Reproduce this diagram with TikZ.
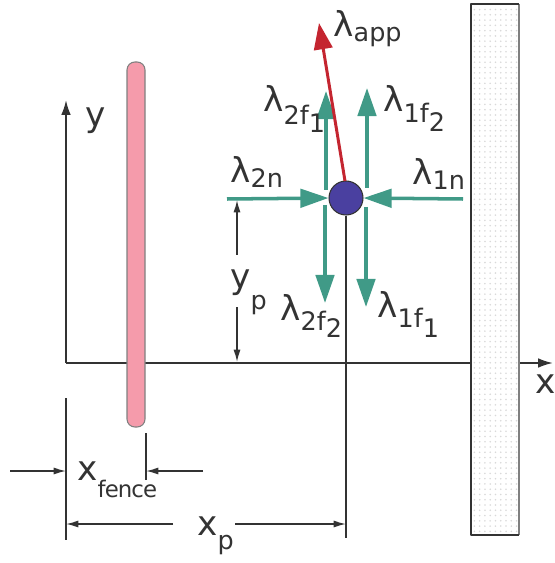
\documentclass[tikz,border=0pt]{standalone}
\usepackage{fontspec}
\setmainfont{DejaVu Sans}
\usetikzlibrary{arrows.meta,patterns}
\definecolor{forcegreen}{HTML}{409A87}
\definecolor{appred}{HTML}{C42530}
\definecolor{grainblue}{HTML}{4A40A0}
\definecolor{fencepink}{HTML}{F59BAB}
\definecolor{inkgray}{HTML}{333333}
\newcommand{\subsz}{\fontsize{14.5}{17}\selectfont}
\newcommand{\lsub}[2]{\raisebox{-#1}{\subsz #2}}
\begin{document}
\begin{tikzpicture}[x=0.02cm, y=-0.02cm, line join=round,
    lbl/.style={inner sep=0pt, anchor=base west, text=inkgray, font=\fontsize{19.5}{23}\selectfont},
    force/.style={forcegreen, line width=2pt, -{Triangle[length=16pt, width=10.5pt]}},
    appforce/.style={appred, line width=1.7pt, -{Triangle[length=15pt, width=10.5pt]}},
    axis/.style={inkgray, line width=1.1pt, -{Latex[length=8.5pt, width=5.5pt]}},
    dim/.style={inkgray, line width=0.8pt, -{Latex[length=7pt, width=4pt]}},
    guide/.style={inkgray, line width=0.6pt}]
  \useasboundingbox (0,0) rectangle (554,563);

  % 1. axes
  \coordinate (O) at (66,363);
  \coordinate (ytip) at (66,100);
  \coordinate (xtip) at (553,363);
  \draw[axis] (O) -- (ytip);
  \draw[axis] (O) -- (xtip);
  \node[lbl] (ylab) at (85,127) {y};
  \node[lbl] (xlab) at (535,393) {x};

  % 2. fence and wall
  \draw[draw=gray, fill=fencepink, line width=0.6pt, rounded corners=4.5pt] (127,62) rectangle (145,427);
  \fill[white] (471,4) rectangle (519,535);
  \fill[pattern=dots, pattern color=gray!30] (471,4) rectangle (519,535);
  \draw[gray, line width=1pt] (519,4) -- (519,535);
  \draw[inkgray, line width=1pt] (519,535) -- (471,535) -- (471,4) -- (519,4);

  % 3. the grain and the forces on it
  \node[circle, draw=inkgray, line width=0.6pt, fill=grainblue, minimum size=0.68cm, inner sep=0pt] (P) at (346,198) {};
  \coordinate (f2n) at (227,199);
  \coordinate (f1n) at (463,199);
  \coordinate (u1a) at (326,190);  \coordinate (u1b) at (326,91);
  \coordinate (u2a) at (367,188);  \coordinate (u2b) at (367,88);
  \coordinate (d1a) at (325,205);  \coordinate (d1b) at (325,303);
  \coordinate (d2a) at (366,207);  \coordinate (d2b) at (366,307);
  \coordinate (appa) at (345,181); \coordinate (appb) at (319,23);
  \draw[force] (f2n) -- (P.west);
  \draw[force] (f1n) -- (P.east);
  \draw[force] (u1a) -- (u1b);
  \draw[force] (u2a) -- (u2b);
  \draw[force] (d1a) -- (d1b);
  \draw[force] (d2a) -- (d2b);
  \draw[appforce] (appa) -- (appb);

  \node[lbl] (lapp) at (333,37) {λ\lsub{2.8pt}{app}};
  \node[lbl] (l2f1) at (263,112) {λ\lsub{7.4pt}{2f\lsub{4.5pt}{1}}};
  \node[lbl] (l1f2) at (383,112) {λ\lsub{6.2pt}{1f\lsub{5pt}{2}}};
  \node[lbl] (l2n) at (230,183) {λ\lsub{2.8pt}{2n}};
  \node[lbl] (l1n) at (412,185) {λ\lsub{2.8pt}{1n}};
  \node[lbl] (l2f2) at (280,320) {λ\lsub{5.7pt}{2f\lsub{4pt}{2}}};
  \node[lbl] (l1f1) at (377,317) {λ\lsub{5.7pt}{1f\lsub{6pt}{1}}};

  % 4. dimensions
  \coordinate (yp0) at (237,255); \coordinate (yp1) at (237,200);
  \coordinate (yp2) at (237,307); \coordinate (yp3) at (237,362);
  \draw[dim] (yp0) -- (yp1);
  \draw[dim] (yp2) -- (yp3);
  \node[lbl] (yplab) at (230,288) {y\lsub{12pt}{p}};

  \coordinate (pdrop) at (346,538);
  \draw[guide] (P.south) -- (pdrop);
  \coordinate (g0a) at (66,398);  \coordinate (g0b) at (66,540);
  \coordinate (g1a) at (146,433); \coordinate (g1b) at (146,480);
  \draw[guide] (g0a) -- (g0b);
  \draw[guide] (g1a) -- (g1b);

  \coordinate (xf0) at (10,471);  \coordinate (xf1) at (66,471);
  \coordinate (xf2) at (203,471); \coordinate (xf3) at (146,471);
  \draw[dim] (xf0) -- (xf1);
  \draw[dim] (xf2) -- (xf3);
  \node[lbl] (xflab) at (77,480) {x\raisebox{-10pt}{\fontsize{13}{15}\selectfont\addfontfeatures{LetterSpace=-4}fence}};

  \coordinate (xp0) at (173,524); \coordinate (xp1) at (66,524);
  \coordinate (xp2) at (235,524); \coordinate (xp3) at (346,524);
  \draw[dim] (xp0) -- (xp1);
  \draw[dim] (xp2) -- (xp3);
  \node[lbl] (xplab) at (197,535) {x\lsub{8.5pt}{p}};
\end{tikzpicture}
\end{document}
